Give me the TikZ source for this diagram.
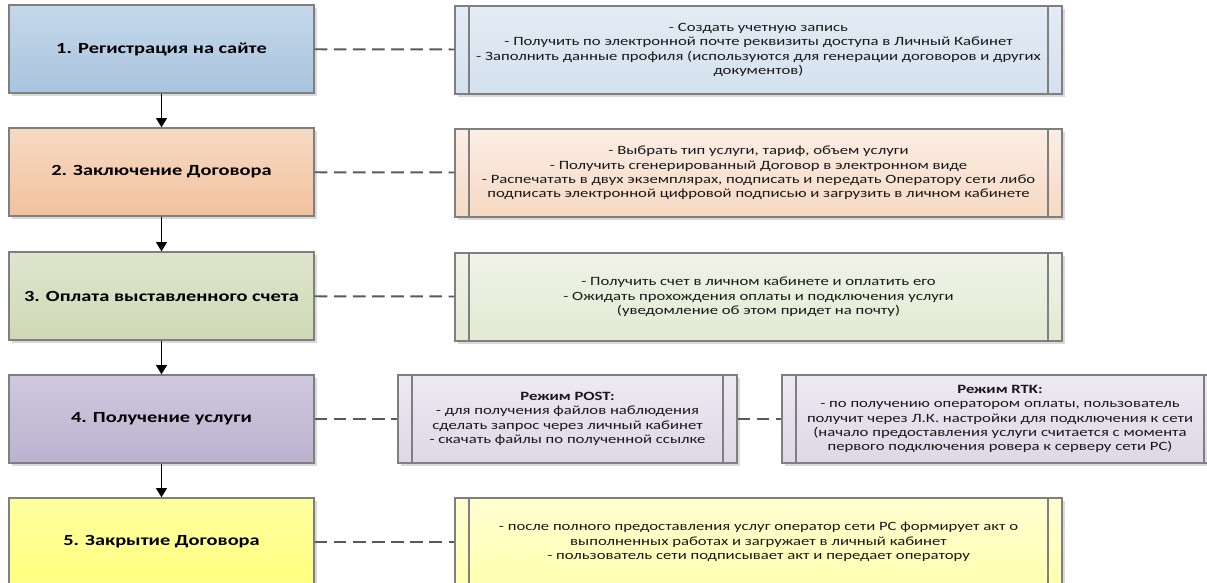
\documentclass[tikz,border=0pt]{standalone}
\usepackage{fontspec}
\setmainfont{Carlito}[FakeStretch=1.32]
\usetikzlibrary{arrows.meta,shadows}
\definecolor{rim}{HTML}{7F7F7F}
\definecolor{link}{HTML}{595959}
\definecolor{pin}{HTML}{404040}
\begin{document}
\begin{tikzpicture}[x=0.025cm,y=-0.025cm,>={Triangle[length=6.5pt,width=7.5pt]},
    box/.style={draw=rim,line width=0.9pt,minimum height=2.2cm,drop shadow={shadow xshift=2pt,shadow yshift=-2pt,fill=black,opacity=0.15}},
    stage/.style={box,minimum width=7.625cm,font=\fontsize{11}{13}\selectfont\bfseries},
    info/.style={box,align=center,text=black!90,font=\fontsize{9}{10.2}\selectfont,
        path picture={\draw[rim,line width=0.9pt]([xshift=0.35cm]path picture bounding box.north west)--([xshift=0.35cm]path picture bounding box.south west)
            ([xshift=-0.35cm]path picture bounding box.north east)--([xshift=-0.35cm]path picture bounding box.south east);}},
    tie/.style={link,line width=1.4pt,dash pattern=on 9pt off 4.6pt},
    flow/.style={->,pin,line width=1.4pt}]
    \useasboundingbox(0,0)rectangle(1207,583);
    \node[stage,top color={rgb,255:red,197;green,216;blue,234},bottom color={rgb,255:red,168;green,196;blue,222}](s1)at(161.5,49){1. Регистрация на сайте};
    \node[stage,top color={rgb,255:red,247;green,218;blue,196},bottom color={rgb,255:red,242;green,193;blue,157}](s2)at(161.5,172){2. Заключение Договора};
    \node[stage,top color={rgb,255:red,223;green,229;blue,205},bottom color={rgb,255:red,207;green,217;blue,182}](s3)at(161.5,296){3. Оплата выставленного счета};
    \node[stage,top color={rgb,255:red,207;green,200;blue,222},bottom color={rgb,255:red,188;green,178;blue,207}](s4)at(161.5,419){4. Получение услуги};
    \node[stage,top color={rgb,255:red,255;green,255;blue,160},bottom color={rgb,255:red,255;green,255;blue,128}](s5)at(161.5,542){5. Закрытие Договора};
    \node[info,minimum width=15.175cm,top color={rgb,255:red,228;green,236;blue,245},bottom color={rgb,255:red,211;green,225;blue,238}](d1)at(758.5,50){- Создать учетную запись\\- Получить по электронной почте реквизиты доступа в Личный Кабинет\\- Заполнить данные профиля (используются для генерации договоров и других\\документов)};
    \node[info,minimum width=15.175cm,top color={rgb,255:red,251;green,238;blue,229},bottom color={rgb,255:red,246;green,217;blue,195}](d2)at(758.5,173){- Выбрать тип услуги, тариф, объем услуги\\- Получить сгенерированный Договор в электронном виде\\- Распечатать в двух экземплярах, подписать и передать Оператору сети либо\\подписать электронной цифровой подписью и загрузить в личном кабинете};
    \node[info,minimum width=15.175cm,top color={rgb,255:red,240;green,243;blue,231},bottom color={rgb,255:red,227;green,233;blue,212}](d3)at(758.5,297){- Получить счет в личном кабинете и оплатить его\\- Ожидать прохождения оплаты и подключения услуги\\(уведомление об этом придет на почту)};
    \node[info,minimum width=8.475cm,top color={rgb,255:red,237;green,234;blue,242},bottom color={rgb,255:red,221;green,216;blue,230}](post)at(567.5,419){\textbf{Режим POST:}\\- для получения файлов наблюдения\\сделать запрос через личный кабинет\\- скачать файлы по полученной ссылке};
    \node[info,minimum width=10.9cm,top color={rgb,255:red,237;green,234;blue,242},bottom color={rgb,255:red,221;green,216;blue,230}](rtk)at(1000,419){\textbf{Режим RTK:}\\- по получению оператором оплаты, пользователь\\получит через Л.К. настройки для подключения к сети\\(начало предоставления услуги считается с момента\\первого подключения ровера к серверу сети РС)};
    \node[info,minimum width=15.175cm,top color={rgb,255:red,255;green,255;blue,210},bottom color={rgb,255:red,255;green,255;blue,176}](d5)at(758.5,542){- после полного предоставления услуг оператор сети РС формирует акт о\\выполненных работах и загружает в личный кабинет\\- пользователь сети подписывает акт и передает оператору};
    \draw[flow](s1)--(s2);
    \draw[flow](s2)--(s3);
    \draw[flow](s3)--(s4);
    \draw[flow](s4)--(s5);
    \draw[tie](s1)--(d1);
    \draw[tie](s2)--(d2);
    \draw[tie](s3)--(d3);
    \draw[tie](s4)--(post);
    \draw[tie](post)--(rtk);
    \draw[tie](s5)--(d5);
\end{tikzpicture}
\end{document}
